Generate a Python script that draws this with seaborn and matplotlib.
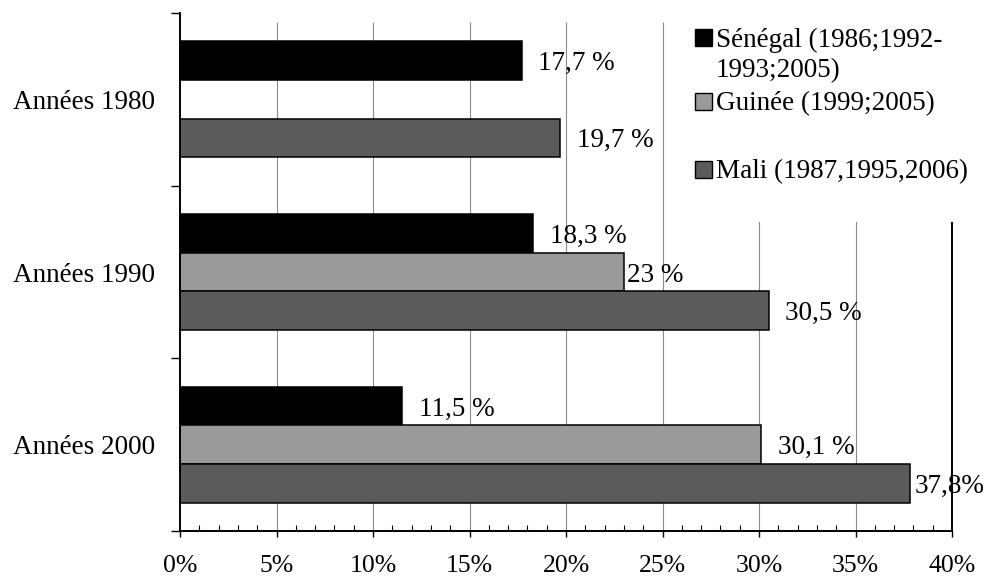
import matplotlib
matplotlib.use("Agg")
import matplotlib.pyplot as plt
from matplotlib.patches import Rectangle
from matplotlib.ticker import FixedLocator, MultipleLocator
import numpy as np
import pandas as pd
import seaborn as sns

# ---- data -------------------------------------------------------------
periods = ["Années 1980", "Années 1990", "Années 2000"]
countries = ["Sénégal (1986;1992-\n1993;2005)", "Guinée (1999;2005)", "Mali (1987,1995,2006)"]
senegal = [17.7, 18.3, 11.5]
guinee = [np.nan, 23.0, 30.1]
mali = [19.7, 30.5, 37.8]
senegal_labels = ["17,7 %", "18,3 %", "11,5 %"]
guinee_labels = [None, "23 %", "30,1 %"]
mali_labels = ["19,7 %", "30,5 %", "37,8%"]
x_ticks = [0, 5, 10, 15, 20, 25, 30, 35, 40]
x_tick_labels = ["0%", "5%", "10%", "15%", "20%", "25%", "30%", "35%", "40%"]

series_values = [senegal, guinee, mali]
series_labels = [senegal_labels, guinee_labels, mali_labels]
colors = ["#000000", "#9a9a9a", "#5b5b5b"]

rows = []
for country, vals in zip(countries, series_values):
    for period, v in zip(periods, vals):
        if not np.isnan(v):
            rows.append({"period": period, "country": country, "value": v})
df = pd.DataFrame(rows)

# ---- style --------------------------------------------------------------
sns.set_style("white")
plt.rcParams["font.family"] = ["Liberation Serif", "DejaVu Serif"]
plt.rcParams["text.color"] = "black"
plt.rcParams["xtick.color"] = "black"
plt.rcParams["ytick.color"] = "black"

W, H = 989, 576
fig = plt.figure(figsize=(W / 100, H / 100), dpi=100)
ax = fig.add_axes([180 / W, 1 - 531 / H, (952 - 180) / W, (531 - 13) / H])

sns.barplot(
    data=df, y="period", x="value", hue="country",
    order=periods, hue_order=countries, palette=colors,
    orient="h", width=0.67, saturation=1, errorbar=None,
    edgecolor="black", linewidth=1.1, legend=False, ax=ax,
)

ax.set_xlim(0, 40)
ax.set_ylim(2.5, -0.5)
ax.set_xlabel("")
ax.set_ylabel("")

# vertical gridlines, stopping a little below the top of the axis
ax.grid(False)
ax.vlines(x_ticks[1:-1], 0, 1 - 9 / 518, transform=ax.get_xaxis_transform(),
          colors="#8a8a8a", linewidth=0.8, zorder=0.5)

# spines
ax.spines["top"].set_visible(False)
for side in ("left", "bottom", "right"):
    ax.spines[side].set_visible(True)
    ax.spines[side].set_color("black")
    ax.spines[side].set_linewidth(1.4)

# ticks
ax.xaxis.set_major_locator(FixedLocator(x_ticks))
ax.set_xticklabels(x_tick_labels, fontsize=18.5)
ax.xaxis.set_minor_locator(MultipleLocator(1))
ax.tick_params(axis="x", which="major", direction="out", length=4, width=1,
               color="black", pad=13, bottom=True)
ax.tick_params(axis="x", which="minor", direction="in", length=4, width=0.8,
               color="black", bottom=True)
ax.set_yticks(range(len(periods)))
ax.set_yticklabels(periods, fontsize=19.5)
ax.yaxis.set_minor_locator(FixedLocator([-0.5, 0.5, 1.5, 2.5]))
ax.tick_params(axis="y", which="major", length=0, pad=18)
ax.tick_params(axis="y", which="minor", direction="out", length=6.5, width=1,
               color="black", left=True)

# value labels next to each bar
label_pad_px = [[16, 17, 17], [0, 3, 17], [17, 16, 5]]
for s, container in enumerate(ax.containers):
    for bar in container:
        yc = bar.get_y() + bar.get_height() / 2
        idx = int(round(yc))
        text = series_labels[s][idx]
        if text is None:
            continue
        ax.annotate(text, xy=(bar.get_width(), yc),
                    xytext=(label_pad_px[s][idx], -3), textcoords="offset pixels",
                    ha="left", va="center", fontsize=19.5)

# legend panel in the upper right corner
def fx(px):
    return px / W

def fy(py):
    return 1 - py / H

fig.add_artist(Rectangle((fx(680), fy(222)), 1 - fx(680), 1 - fy(222) + 0.01,
                         transform=fig.transFigure, facecolor="white",
                         edgecolor="none", zorder=5))
# baseline of the square / first text line, and of the last text line
square_bases = [46, 110, 178]
text_bases = [77, 110, 178]
for country, color, sq, tb in zip(countries, colors, square_bases, text_bases):
    fig.add_artist(Rectangle((fx(695), fy(sq)), fx(712) - fx(695), fy(sq - 17) - fy(sq),
                             transform=fig.transFigure, facecolor=color,
                             edgecolor="black", linewidth=1, zorder=6))
    fig.text(fx(716), fy(tb), country, ha="left", va="baseline",
             fontsize=19.5, linespacing=1.27, zorder=7)

fig.savefig("out.png", dpi=100)
